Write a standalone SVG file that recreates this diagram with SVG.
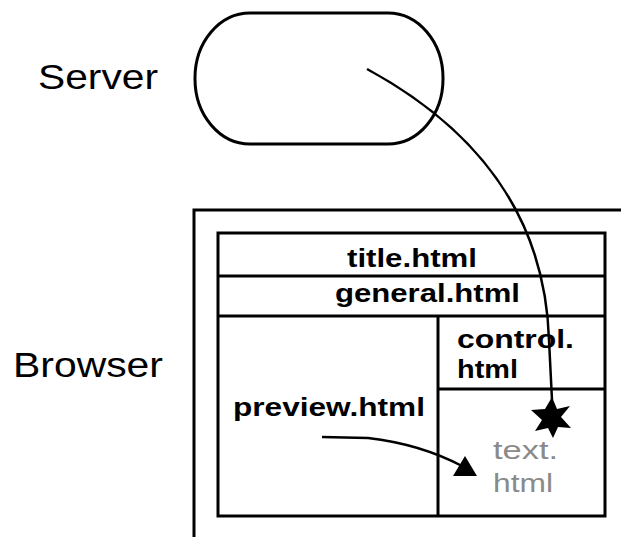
<svg xmlns="http://www.w3.org/2000/svg" width="621" height="537" viewBox="0 0 621 537">
<style>
.ln{fill:none;stroke:#000;stroke-width:3}
.lbl{font-family:"Liberation Sans",Arial,sans-serif;font-size:35px;fill:#000}
.cell{font-family:"Liberation Sans",Arial,sans-serif;font-size:25px;font-weight:bold;fill:#000}
.dim{fill:#8a8a8a;font-weight:normal}
.conn{fill:none;stroke:#000;stroke-width:2.5}
</style>
<rect width="621" height="537" fill="#fff"/>
<g id="server">
<rect class="ln" x="195" y="13" width="248" height="131" rx="55" ry="65"/>
<text class="lbl" x="38" y="89" textLength="120" lengthAdjust="spacingAndGlyphs">Server</text>
</g>
<g id="browser">
<path class="ln" d="M621,210 H194 V537"/>
<text class="lbl" x="13" y="377" textLength="150" lengthAdjust="spacingAndGlyphs">Browser</text>
</g>
<g id="frames">
<rect class="ln" x="218" y="233" width="387" height="283"/>
<line class="ln" x1="218" y1="276" x2="605" y2="276"/>
<line class="ln" x1="218" y1="316" x2="605" y2="316"/>
<line class="ln" x1="438" y1="316" x2="438" y2="516"/>
<line class="ln" x1="438" y1="389" x2="605" y2="389"/>
</g>
<g id="title"><text class="cell" x="347" y="267" textLength="130" lengthAdjust="spacingAndGlyphs">title.html</text></g>
<g id="general"><text class="cell" x="335" y="302" textLength="185" lengthAdjust="spacingAndGlyphs">general.html</text></g>
<g id="control">
<text class="cell" x="457" y="348" textLength="117" lengthAdjust="spacingAndGlyphs">control.</text>
<text class="cell" x="457" y="378" textLength="61" lengthAdjust="spacingAndGlyphs">html</text>
</g>
<g id="preview"><text class="cell" x="233" y="416" textLength="192" lengthAdjust="spacingAndGlyphs">preview.html</text></g>
<g id="text">
<text class="cell dim" x="493" y="459" textLength="65" lengthAdjust="spacingAndGlyphs">text.</text>
<text class="cell dim" x="493" y="492" textLength="60" lengthAdjust="spacingAndGlyphs">html</text>
</g>
<g id="connectors">
<path class="conn" d="M367,69 C470,125 545,210 549,340 L552,400"/>
<polygon fill="#000" points="552,397 557,409 570,406 561,417 571,428 558,427 553,438 548,428 535,431 542,420 531,410 545,409"/>
<path class="conn" d="M322,437 L368,438 Q420,444 462,466"/>
<polygon fill="#000" points="465,456 453,476 477,476"/>
</g>
</svg>
